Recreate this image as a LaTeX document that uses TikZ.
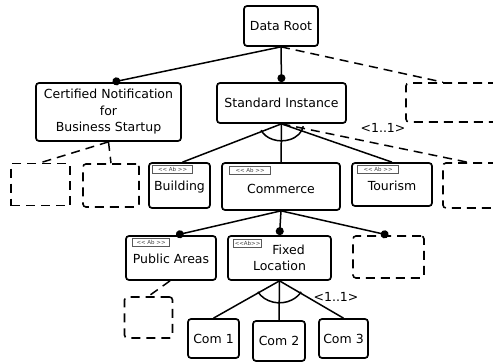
\documentclass[tikz,border=0pt]{standalone}
\usepackage{fontspec}
\setmainfont{DejaVu Sans}
\usetikzlibrary{arrows.meta}

\tikzset{
  feat/.style={draw, line width=1.7pt, rounded corners=3pt, align=center, inner sep=0pt,
    font=\fontsize{12.5}{16.5}\selectfont},
  ghost/.style={draw, line width=1.6pt, dash pattern=on 9pt off 6pt, rounded corners=3pt, inner sep=0pt},
  stereo/.style={draw=gray!70!black, line width=0.9pt, inner sep=0pt, minimum height=8pt,
    text=gray!50!black, font=\fontsize{5.5}{5.5}\selectfont},
  link/.style={line width=1.5pt},
  opt/.style={line width=1.5pt, dash pattern=on 9pt off 6pt},
  mand/.style={line width=1.5pt, -{Circle[length=8pt,width=8pt]}},
  card/.style={font=\fontsize{12.5}{15}\selectfont}
}

\newcommand{\abmark}{<{}< Ab >{}>}

\begin{document}
\begin{tikzpicture}[x=1pt,y=-1pt]
\clip (0,0) rectangle (493,362);

%top level
\node[feat, minimum width=74pt, minimum height=40pt] (root) at (281,26) {Data Root};
\node[feat, minimum width=145pt, minimum height=58pt] (cert) at (108.5,112) {Certified Notification\\for\\Business Startup};
\node[feat, minimum width=129pt, minimum height=40pt] (std) at (281.5,103) {Standard Instance};
\node[ghost, minimum width=94pt, minimum height=39pt] (ghostA) at (453,102.5) {};

%second level
\node[ghost, rounded corners=0pt, minimum width=59pt, minimum height=42pt] (ghostL) at (40.5,184.5) {};
\node[ghost, minimum width=56pt, minimum height=43pt] (ghostM) at (111,185.5) {};
\node[feat, minimum width=61pt, minimum height=45pt] (bld) at (179.5,185.5) {\\[-3pt]Building};
\node[feat, minimum width=118pt, minimum height=47pt] (com) at (281,186.5) {\\[-2pt]Commerce};
\node[feat, minimum width=80pt, minimum height=43pt] (tour) at (392,184.5) {\\[-5pt]Tourism};
\node[ghost, minimum width=57pt, minimum height=45pt] (ghostB) at (471.5,185.5) {};

%third level
\node[feat, minimum width=90pt, minimum height=44pt] (pub) at (171,258) {\\[-6pt]Public Areas};
\node[feat, minimum width=103pt, minimum height=44pt] (fix) at (279.5,258) {\hspace*{18pt}Fixed\\Location};
\node[ghost, minimum width=71pt, minimum height=42pt] (ghostC) at (388.5,257) {};

%leaves
\node[ghost, minimum width=48pt, minimum height=41pt] (ghostD) at (148.5,317.5) {};
\node[feat, minimum width=51pt, minimum height=39pt] (com1) at (213.5,338.5) {Com 1};
\node[feat, minimum width=52pt, minimum height=40pt] (com2) at (279,341) {Com 2};
\node[feat, minimum width=49pt, minimum height=39pt] (com3) at (343.5,338.5) {Com 3};

%abstract tags
\node[stereo, minimum width=40pt, anchor=north west] (bldab) at ([shift={(4,3)}]bld.north west) {\abmark};
\node[stereo, minimum width=41pt, anchor=north west] (comab) at ([shift={(8,4)}]com.north west) {\abmark};
\node[stereo, minimum width=41pt, anchor=north west] (tourab) at ([shift={(6,3)}]tour.north west) {\abmark};
\node[stereo, minimum width=37pt, anchor=north west] (pubab) at ([shift={(7,3)}]pub.north west) {\abmark};
\node[stereo, minimum width=28pt, anchor=north west] (fixab) at ([shift={(6,4)}]fix.north west) {<{}<Ab>{}>};

%root links
\draw[mand] (root.south) -- ([xshift=4pt]cert.north);
\draw[mand] (root.south) -- (std.north);
\draw[opt] (root.south) -- ([xshift=-10pt]ghostA.north);

%optional children of cert
\draw[opt] (cert.south) -- (ghostL.north);
\draw[opt] (cert.south) -- (ghostM.north);

%alternative group under std
\draw[link] (std.south) -- ([xshift=3pt]bld.north);
\draw[link] (std.south) -- (com.north);
\draw[link] (std.south) -- (tour.north);
\draw[opt] (std.south) -- ([xshift=-4pt]ghostB.north);
\draw[link] ([shift={(158:22 and 17)}]std.south) arc[start angle=158, end angle=8, x radius=22, y radius=17];
\node[card] (cardA) at (383,128) {<1..1>};

%commerce children
\draw[mand] (com.south) -- ([xshift=5pt]pub.north);
\draw[mand] (com.south) -- (fix.north);
\draw[mand] (com.south) -- (ghostC.north);
\draw[opt] ([xshift=-1pt]pub.south) -- (ghostD.north);

%alternative group under fixed location
\draw[link] (fix.south) -- (com1.north);
\draw[link] (fix.south) -- (com2.north);
\draw[link] (fix.south) -- (com3.north);
\draw[link] ([shift={(150:25 and 22)}]fix.south) arc[start angle=150, end angle=30, x radius=25, y radius=22];
\node[card] (cardB) at (336,297) {<1..1>};

\end{tikzpicture}
\end{document}
